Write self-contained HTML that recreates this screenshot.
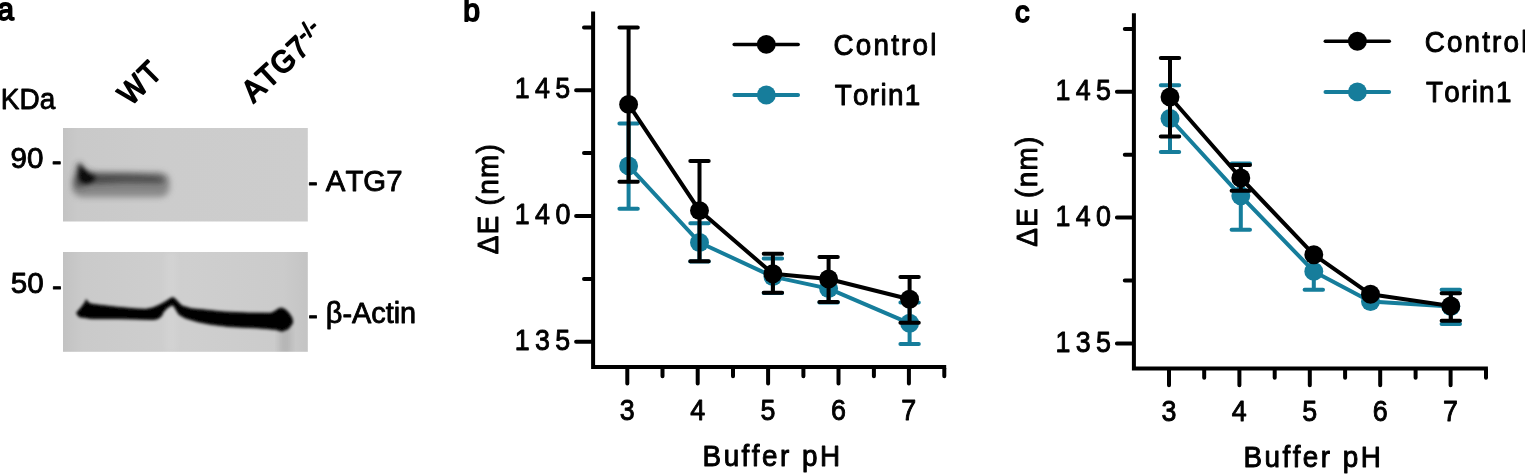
<!DOCTYPE html>
<html>
<head>
<meta charset="utf-8">
<title>Figure</title>
<style>
html,body{margin:0;padding:0;background:#fff;}
body{width:1525px;height:474px;overflow:hidden;}
svg{display:block;}
text{font-family:"Liberation Sans",sans-serif;fill:#000;stroke:#000;stroke-width:0.95px;stroke-linejoin:round;font-kerning:none;}
.ax{stroke:#000;stroke-width:4.0;fill:none;}
.k{stroke:#000;stroke-width:4.0;fill:none;}
.t{stroke:#147d9b;stroke-width:4.0;fill:none;}
.nb{stroke:none;}
.sb{stroke-width:1.8px;}
#panel-a text.pa{stroke-width:0.85px;}
.kd{fill:#000;}
.td{fill:#147d9b;}
</style>
</head>
<body>
<svg width="1525" height="474" viewBox="0 0 1525 474">
<defs>
<filter id="soft" x="0" y="0" width="1525" height="474" filterUnits="userSpaceOnUse"><feGaussianBlur stdDeviation="0.4"/></filter>
<filter id="bl1" x="-30%" y="-80%" width="160%" height="260%"><feGaussianBlur stdDeviation="3"/></filter>
<filter id="bl2" x="-30%" y="-80%" width="160%" height="260%"><feGaussianBlur stdDeviation="1.4"/></filter>
<filter id="bl4" x="-50%" y="-50%" width="200%" height="200%"><feGaussianBlur stdDeviation="2"/></filter>
<filter id="bl3" x="-30%" y="-80%" width="160%" height="260%"><feGaussianBlur stdDeviation="5"/></filter>
<linearGradient id="g1" x1="0" y1="0" x2="1" y2="0">
<stop offset="0" stop-color="#c3c3c3"/><stop offset="0.06" stop-color="#c9c9c9"/><stop offset="0.4" stop-color="#cccccc"/><stop offset="1" stop-color="#cdcdcd"/>
</linearGradient>
<linearGradient id="g2" x1="0" y1="0" x2="1" y2="0">
<stop offset="0" stop-color="#c2c2c2"/><stop offset="0.08" stop-color="#cacaca"/><stop offset="0.5" stop-color="#cfcfcf"/><stop offset="0.9" stop-color="#cbcbcb"/><stop offset="1" stop-color="#c4c4c4"/>
</linearGradient>
<clipPath id="c1"><rect x="63" y="128" width="244.8" height="93.5"/></clipPath>
<clipPath id="c2"><rect x="63" y="252" width="244.8" height="99.8"/></clipPath>
</defs>

<g filter="url(#soft)">
<g id="panel-a">
<text class="sb" font-size="31" transform="translate(-2.4,20.3) scale(0.95,1)">a</text>
<text transform="translate(0.8,108.55) scale(0.948,1)" font-size="29.5" class="pa">KDa</text>
<text transform="translate(10.6,168.45) scale(1.0228,1)" font-size="29" class="pa">90 <tspan dy="2.3">-</tspan></text>
<text transform="translate(10.85,293.45) scale(1.0228,1)" font-size="29" class="pa">50 <tspan dy="2.3">-</tspan></text>
<text transform="translate(307.9,190.75) scale(1.0126,1)" font-size="29" class="pa"><tspan dy="1.5">-</tspan><tspan dy="-1.5"> ATG7</tspan></text>
<text transform="translate(308.15,323.4) scale(0.9958,1)" font-size="29" class="pa"><tspan dy="1.5">-</tspan><tspan dy="-1.5"> β</tspan><tspan dy="1">-</tspan><tspan dy="-1">Actin</tspan></text>
<text class="sb" font-size="31" letter-spacing="2.5" transform="translate(130.8,106.6) rotate(-45) scale(0.9,1)">WT</text>
<text class="sb" font-size="30.5" letter-spacing="1" transform="translate(253.4,103.4) rotate(-43) scale(0.95,1)">ATG7<tspan font-size="21" dy="-10" dx="-0.5">-/-</tspan></text>

<rect x="63" y="128" width="244.8" height="93.5" fill="url(#g1)"/>
<g clip-path="url(#c1)">
<rect x="72.5" y="172.5" width="97" height="24.5" rx="9" fill="#6a6a6a" opacity="0.7" filter="url(#bl1)"/>
<path d="M75 188 L76 168 L79 161.5 L86 170.5 L96 174 L130 174.5 L158 176 L166 179 L162 183 L125 182.5 L92 184 Z" fill="#2c2c2c" opacity="0.7" filter="url(#bl1)"/>
<path d="M79 178 L79.3 163.5 L84 169.5 L90 175 L96 177 L93 181 L87 183.5 L81.5 182 Z" fill="#000" opacity="0.9" filter="url(#bl4)"/>
</g>
<rect x="63" y="252" width="244.8" height="99.8" fill="url(#g2)"/>
<g clip-path="url(#c2)">
<rect x="165" y="252" width="12" height="100" fill="#fff" opacity="0.10" filter="url(#bl1)"/>
<rect x="279" y="325" width="12" height="30" fill="#000" opacity="0.10" filter="url(#bl1)"/>
<path d="M76.5 313 L82 306.5 L85 302.4 L86.4 299.6 L88.2 302.8 L92 304.2 L98 305 L117 307.2 L136 308.9 L146 309.3 L153 307.8 L160 304.8 L166 301.4 L170 298.8 L172.8 297.4 L175.5 299.2 L178.6 302.6 L182 306 L191.6 308.8 L204 309.9 L223 311.9 L248.6 313.1 L271 313.2 L275 311.2 L278.5 308.8 L281.5 308 L285 309.5 L288.5 312.6 L292 318 L292.6 323 L288.4 328.7 L282 331.2 L275.7 329.4 L258 327.9 L248.6 327.5 L229.6 326.6 L210.6 324.3 L198 321.8 L185.3 318 L179 314.5 L176.3 310 L173.6 305.6 L171.8 305 L167 308 L163 312.5 L161.5 316 L158 318.6 L153.7 319.5 L136 319 L117 318.6 L91.6 318.6 L79 316.7 Z" fill="#000" stroke="#000" stroke-width="1" stroke-linejoin="round" filter="url(#bl2)"/>
</g>

</g>
<text class="sb" font-size="31" transform="translate(463.3,20.8) scale(0.97,1)">b</text>
<g id="panel-b">
<g transform="translate(0,0)">
<path class="ax" d="M593.1 11.6 V369.00 M591.10 367 H946.2"/>
<path class="ax" stroke-linecap="round" d="M576.1 90.2 H591.5 M576.1 215.9 H591.5 M576.1 341.8 H591.5 M584 27.4 H591.5 M584 153.1 H591.5 M584 278.9 H591.5"/>
<path class="ax" stroke-linecap="round" d="M627.3 368.5 V383.6 M697.7 368.5 V383.6 M768.1 368.5 V383.6 M838.5 368.5 V383.6 M908.9 368.5 V383.6 M662.5 368.5 V376.2 M733.0 368.5 V376.2 M803.4 368.5 V376.2 M873.9 368.5 V376.2 M944.3 368.5 V376.2"/>
<text transform="translate(627.2,419.8) scale(0.9,1)" font-size="29.8" text-anchor="middle">3</text>
<text transform="translate(697.6,419.8) scale(0.9,1)" font-size="29.8" text-anchor="middle">4</text>
<text transform="translate(768.0,419.8) scale(0.9,1)" font-size="29.8" text-anchor="middle">5</text>
<text transform="translate(838.4,419.8) scale(0.9,1)" font-size="29.8" text-anchor="middle">6</text>
<text transform="translate(908.8,419.8) scale(0.9,1)" font-size="29.8" text-anchor="middle">7</text>
<text transform="translate(497.8,254.3) rotate(-90) scale(0.96,1)" font-size="29" letter-spacing="1.4">ΔE (nm)</text>
</g>
<text transform="translate(514.75,98.35) scale(0.9,1)" font-size="29.8" letter-spacing="5.89">145</text>
<text transform="translate(514.75,224.35) scale(0.9,1)" font-size="29.8" letter-spacing="6.06">140</text>
<text transform="translate(514.75,350.35) scale(0.9,1)" font-size="29.8" letter-spacing="5.89">135</text>
<text transform="translate(702.6,465.6) scale(0.96,1)" font-size="29" letter-spacing="2.6">Buffer pH</text>
<path class="t" d="M628.6 165.9 L699.5 242.5 L772.9 276.6 L828.6 288.6 L909.6 323.3" stroke-linejoin="round"/>
<path class="t" d="M628.6 123.6 V208.8 M699.5 223.3 V261.5 M772.9 258.6 V292.9 M828.6 288.6 V302.6 M909.6 302.6 V344"/>
<path class="t" stroke-linecap="round" d="M619.4 123.6 H637.8 M619.4 208.8 H637.8 M690.3 223.3 H708.7 M690.3 261.5 H708.7 M763.7 258.6 H782.1 M763.7 292.9 H782.1 M819.4 302.6 H837.8 M900.4 302.6 H918.8 M900.4 344 H918.8"/>
<circle class="td" cx="628.6" cy="165.9" r="9.45"/>
<circle class="td" cx="699.5" cy="242.5" r="9.45"/>
<circle class="td" cx="772.9" cy="276.6" r="9.45"/>
<circle class="td" cx="828.6" cy="288.6" r="9.45"/>
<circle class="td" cx="909.6" cy="323.3" r="9.45"/>
<path class="k" d="M628.6 104.4 L699.5 210.6 L772.9 273.8 L828.6 279 L909.6 299.2" stroke-linejoin="round"/>
<path class="k" d="M628.6 27.5 V181.8 M699.5 161 V261.3 M772.9 253.7 V292.7 M828.6 257 V301.9 M909.6 276.9 V322.7"/>
<path class="k" stroke-linecap="round" d="M619.4 27.5 H637.8 M619.4 181.8 H637.8 M690.3 161 H708.7 M690.3 261.3 H708.7 M763.7 253.7 H782.1 M763.7 292.7 H782.1 M819.4 257 H837.8 M819.4 301.9 H837.8 M900.4 276.9 H918.8 M900.4 322.7 H918.8"/>
<circle class="kd" cx="628.6" cy="104.4" r="9.45"/>
<circle class="kd" cx="699.5" cy="210.6" r="9.45"/>
<circle class="kd" cx="772.9" cy="273.8" r="9.45"/>
<circle class="kd" cx="828.6" cy="279" r="9.45"/>
<circle class="kd" cx="909.6" cy="299.2" r="9.45"/>
<g transform="translate(0,0)">
<path class="k" stroke-linecap="round" style="stroke-width:3.5" d="M734.2 44.4 H798.2"/><circle class="kd" cx="766.3" cy="44.4" r="9.45"/>
<path class="t" stroke-linecap="round" d="M734.4 95 H798"/><circle class="td" cx="766.3" cy="95" r="9.45"/>
</g>
<text transform="translate(833.5,54.75) scale(0.96,1)" font-size="29" letter-spacing="2.29">Control</text>
<text transform="translate(834.75,105.25) scale(0.96,1)" font-size="29" letter-spacing="1.37">Torin1</text>
</g>
<text class="sb" font-size="30" transform="translate(1015,22.1) scale(0.97,1)">c</text>
<g id="panel-c">
<g transform="translate(540.8,1.6)">
<path class="ax" d="M593.1 11.6 V369.00 M591.10 367 H947.1"/>
<path class="ax" stroke-linecap="round" d="M576.1 90.2 H591.5 M576.1 215.9 H591.5 M576.1 341.8 H591.5 M584 27.4 H591.5 M584 153.1 H591.5 M584 278.9 H591.5"/>
<path class="ax" stroke-linecap="round" d="M628.2 368.5 V383.6 M698.6 368.5 V383.6 M769.0 368.5 V383.6 M839.4 368.5 V383.6 M909.8 368.5 V383.6 M663.4 368.5 V376.2 M733.9 368.5 V376.2 M804.3 368.5 V376.2 M874.8 368.5 V376.2 M945.2 368.5 V376.2"/>
<text transform="translate(628.1,419.8) scale(0.9,1)" font-size="29.8" text-anchor="middle">3</text>
<text transform="translate(698.5,419.8) scale(0.9,1)" font-size="29.8" text-anchor="middle">4</text>
<text transform="translate(768.9,419.8) scale(0.9,1)" font-size="29.8" text-anchor="middle">5</text>
<text transform="translate(839.3,419.8) scale(0.9,1)" font-size="29.8" text-anchor="middle">6</text>
<text transform="translate(909.7,419.8) scale(0.9,1)" font-size="29.8" text-anchor="middle">7</text>
<text transform="translate(495.7,245.2) rotate(-90) scale(0.96,1)" font-size="29" letter-spacing="1.4">ΔE (nm)</text>
</g>
<text transform="translate(1055.55,99.85) scale(0.9,1)" font-size="29.8" letter-spacing="5.89">145</text>
<text transform="translate(1055.55,225.85) scale(0.9,1)" font-size="29.8" letter-spacing="5.92">140</text>
<text transform="translate(1055.55,351.85) scale(0.9,1)" font-size="29.8" letter-spacing="5.89">135</text>
<text transform="translate(1243.4,467.1) scale(0.96,1)" font-size="29" letter-spacing="2.6">Buffer pH</text>
<path class="t" d="M1170 118.5 L1240.8 195.8 L1313.8 271.4 L1370.5 301.5 L1450.8 306.6" stroke-linejoin="round"/>
<path class="t" d="M1170 85.2 V151.9 M1240.8 163.6 V229.7 M1313.8 271.4 V289.8 M1450.8 289.7 V323.9"/>
<path class="t" stroke-linecap="round" d="M1160.8 85.2 H1179.2 M1160.8 151.9 H1179.2 M1231.6 163.6 H1250.0 M1231.6 229.7 H1250.0 M1304.6 289.8 H1323.0 M1441.6 289.7 H1460.0 M1441.6 323.9 H1460.0"/>
<circle class="td" cx="1170" cy="118.5" r="9.45"/>
<circle class="td" cx="1240.8" cy="195.8" r="9.45"/>
<circle class="td" cx="1313.8" cy="271.4" r="9.45"/>
<circle class="td" cx="1370.5" cy="301.5" r="9.45"/>
<circle class="td" cx="1450.8" cy="306.6" r="9.45"/>
<path class="k" d="M1170 97 L1240.8 178 L1313.8 254.7 L1370.5 294.3 L1450.8 305.9" stroke-linejoin="round"/>
<path class="k" d="M1170 58 V136.5 M1240.8 165 V190.8 M1450.8 293.3 V320.7"/>
<path class="k" stroke-linecap="round" d="M1160.8 58 H1179.2 M1160.8 136.5 H1179.2 M1231.6 165 H1250.0 M1231.6 190.8 H1250.0 M1441.6 293.3 H1460.0 M1441.6 320.7 H1460.0"/>
<circle class="kd" cx="1170" cy="97" r="9.45"/>
<circle class="kd" cx="1240.8" cy="178" r="9.45"/>
<circle class="kd" cx="1313.8" cy="254.7" r="9.45"/>
<circle class="kd" cx="1370.5" cy="294.3" r="9.45"/>
<circle class="kd" cx="1450.8" cy="305.9" r="9.45"/>
<g transform="translate(591.1,-3.1)">
<path class="k" stroke-linecap="round" style="stroke-width:3.5" d="M734.2 44.4 H798.2"/><circle class="kd" cx="766.3" cy="44.4" r="9.45"/>
<path class="t" stroke-linecap="round" d="M734.4 95 H798"/><circle class="td" cx="766.3" cy="95" r="9.45"/>
</g>
<text transform="translate(1424.7,51.5) scale(0.96,1)" font-size="29" letter-spacing="2.25">Control</text>
<text transform="translate(1425.95,102.25) scale(0.96,1)" font-size="29" letter-spacing="1.37">Torin1</text>
</g>
</g>
</svg>
</body>
</html>
